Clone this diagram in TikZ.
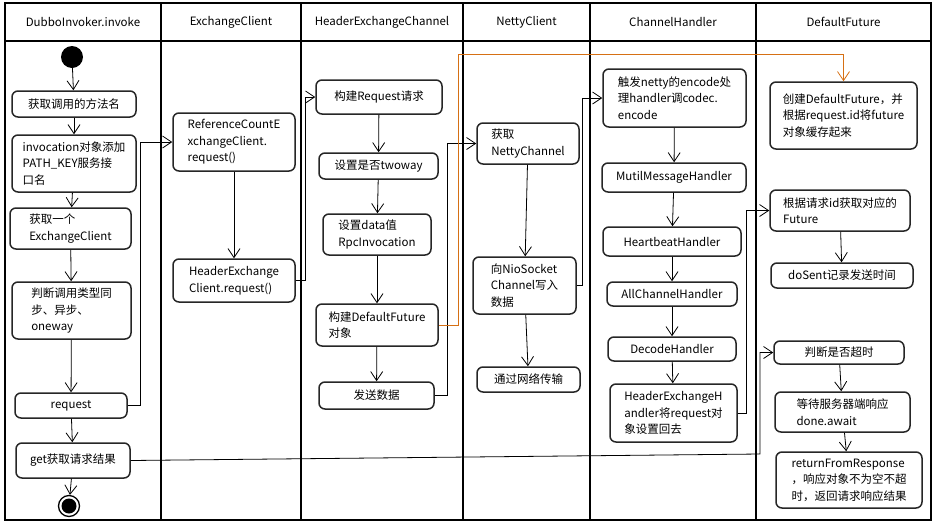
\documentclass[tikz,border=0pt]{standalone}
\usepackage{fontspec}
\setmainfont{Noto Sans CJK SC}
\usetikzlibrary{arrows.meta}
\definecolor{futureline}{RGB}{214,112,20}

\begin{document}
\begin{tikzpicture}[x=1pt,y=-1pt,font=\fontsize{11.5}{16.5}\selectfont]
  \useasboundingbox (0,0) rectangle (935,523);
  \tikzset{act/.style={draw=black!85,line width=1.5pt,rounded corners=6pt,fill=white,
                       align=left,inner sep=2pt},
           flow/.style={line width=0.8pt,-{Straight Barb[length=9pt,width=12pt,line width=0.8pt]}},
           lane/.style={line width=2pt}}
  % swimlanes
  \draw[lane] (5,3) rectangle (931,520);
  \draw[lane] (5,41) -- (931,41);
  \foreach \x in {161,301,463,590,756}
    \draw[lane] (\x,3) -- (\x,520);
  \foreach \cx/\title [count=\i] in {83/DubboInvoker.invoke,231/ExchangeClient,
      382/HeaderExchangeChannel,526.5/NettyClient,673/ChannelHandler,843.5/DefaultFuture}
    \node (head\i) at (\cx,22) {\title};
  % DubboInvoker.invoke
  \node[circle,fill=black,minimum size=22pt,inner sep=0pt] (start) at (72,57) {};
  \node[act,minimum width=124pt,minimum height=26pt] (getName) at (74,104) {获取调用的方法名};
  \node[act,minimum width=124pt,minimum height=57pt] (addPath) at (74,163.5)
    {invocation对象添加\\PATH\_KEY服务接\\口名};
  \node[act,minimum width=121pt,minimum height=41pt] (getClient) at (70.5,228.5)
    {获取一个\\ExchangeClient\hspace{22pt}};
  \node[act,minimum width=119pt,minimum height=57pt] (checkType) at (71.5,310.5)
    {判断调用类型同\\步、异步、\\oneway};
  \node[act,minimum width=112pt,minimum height=25pt] (request) at (71,405.5) {request};
  \node[act,minimum width=114pt,minimum height=35pt] (getResult) at (73,460.5) {get获取请求结果};
  \node[circle,draw,line width=1.3pt,minimum size=21pt,inner sep=0pt] (stop) at (69,506) {};
  \fill (stop) circle (7.5pt);
  % ExchangeClient
  \node[act,minimum width=122pt,minimum height=58pt] (refClient) at (234,142)
    {ReferenceCountE\\xchangeClient.\\request()};
  \node[act,minimum width=122pt,minimum height=43pt] (hdrClient) at (234,280.5)
    {HeaderExchange\\Client.request()};
  % HeaderExchangeChannel
  \node[act,minimum width=126pt,minimum height=34pt] (buildReq) at (379,97) {构建Request请求};
  \node[act,minimum width=119pt,minimum height=26pt] (setTwoway) at (378.5,166) {设置是否twoway};
  \node[act,minimum width=108pt,minimum height=41pt] (setData) at (377,234.5)
    {设置data值\hspace{28pt}\\RpcInvocation};
  \node[act,minimum width=122pt,minimum height=42pt] (buildFuture) at (377,325)
    {构建DefaultFuture\\对象};
  \node[act,minimum width=115pt,minimum height=27pt] (sendData) at (376.5,395.5) {发送数据};
  % NettyClient
  \node[act,minimum width=102pt,minimum height=41pt] (getChannel) at (528,143.5)
    {获取\\NettyChannel};
  \node[act,minimum width=103pt,minimum height=57pt] (writeData) at (524.5,285.5)
    {向NioSocket\\Channel写入\\数据};
  \node[act,minimum width=103pt,minimum height=25pt] (transfer) at (528.5,379.5) {通过网络传输};
  % ChannelHandler
  \node[act,minimum width=143pt,minimum height=58pt] (encode) at (674.5,98)
    {触发netty的encode处\\理handler调codec.\\encode};
  \node[act,minimum width=144pt,minimum height=29pt] (multiMsg) at (674,177.5) {MutilMessageHandler};
  \node[act,minimum width=138pt,minimum height=29pt] (heartbeat) at (672,241.5) {HeartbeatHandler};
  \node[act,minimum width=130pt,minimum height=24pt] (allChannel) at (672,294) {AllChannelHandler};
  \node[act,minimum width=128pt,minimum height=24pt] (decode) at (672,349) {DecodeHandler};
  \node[act,minimum width=127pt,minimum height=58pt] (hdrHandler) at (673.5,413)
    {HeaderExchangeH\\andler将request对\\象设置回去};
  % DefaultFuture
  \node[act,minimum width=147pt,minimum height=67pt] (newFuture) at (843.5,115.5)
    {创建DefaultFuture，并\\根据request.id将future\\对象缓存起来};
  \node[act,minimum width=140pt,minimum height=41pt] (findFuture) at (840,210.5)
    {根据请求id获取对应的\\Future};
  \node[act,minimum width=142pt,minimum height=25pt] (doSent) at (842,275.5) {doSent记录发送时间};
  \node[act,minimum width=130pt,minimum height=23pt] (timeout) at (839,352.5) {判断是否超时};
  \node[act,minimum width=135pt,minimum height=40pt] (await) at (842.5,412)
    {等待服务器端响应\\done.await};
  \node[act,minimum width=146pt,minimum height=56pt] (response) at (849,480)
    {returnFromResponse\\，响应对象不为空不超\\时，返回请求响应结果};
  % flows inside the lanes
  \draw[flow] (start) -- (getName);
  \draw[flow] (getName) -- (addPath);
  \draw[flow] (addPath) -- (getClient);
  \draw[flow] (getClient) -- (checkType);
  \draw[flow] (checkType) -- (request);
  \draw[flow] (request) -- (getResult);
  \draw[flow] (getResult) -- (stop);
  \draw[flow] (refClient) -- (hdrClient);
  \draw[flow] (buildReq) -- (setTwoway);
  \draw[flow] (setTwoway) -- (setData);
  \draw[flow] (setData) -- (buildFuture);
  \draw[flow] (buildFuture) -- (sendData);
  \draw[flow] (getChannel) -- (writeData);
  \draw[flow] (writeData) -- (transfer);
  \draw[flow] (encode) -- (multiMsg);
  \draw[flow] (multiMsg) -- (heartbeat);
  \draw[flow] (heartbeat) -- (allChannel);
  \draw[flow] (allChannel) -- (decode);
  \draw[flow] (decode) -- (hdrHandler);
  \draw[flow] (findFuture) -- (doSent);
  \draw[flow] (timeout) -- (await);
  \draw[flow] (await) -- (response);
  % flows across the lanes
  \draw[flow] (request.east) -- ++(13,0) |- (refClient.west);
  \draw[flow] (hdrClient.east) -- ++(10,0) |- (buildReq.west);
  \draw[flow] (sendData.east) -- ++(13,0) |- (getChannel.west);
  \draw[flow] (writeData.east) -- ++(6,0) |- (encode.west);
  \draw[flow] (hdrHandler.east) -- ++(9,0) |- (findFuture.west);
  \coordinate (fturn) at (458,54);
  \draw[flow,futureline] (buildFuture.east) -| (fturn) -| (newFuture.north);
  \coordinate (jturn) at (760,454);
  \draw[flow] (getResult.east) -- (jturn) |- (timeout.west);
\end{tikzpicture}
\end{document}
